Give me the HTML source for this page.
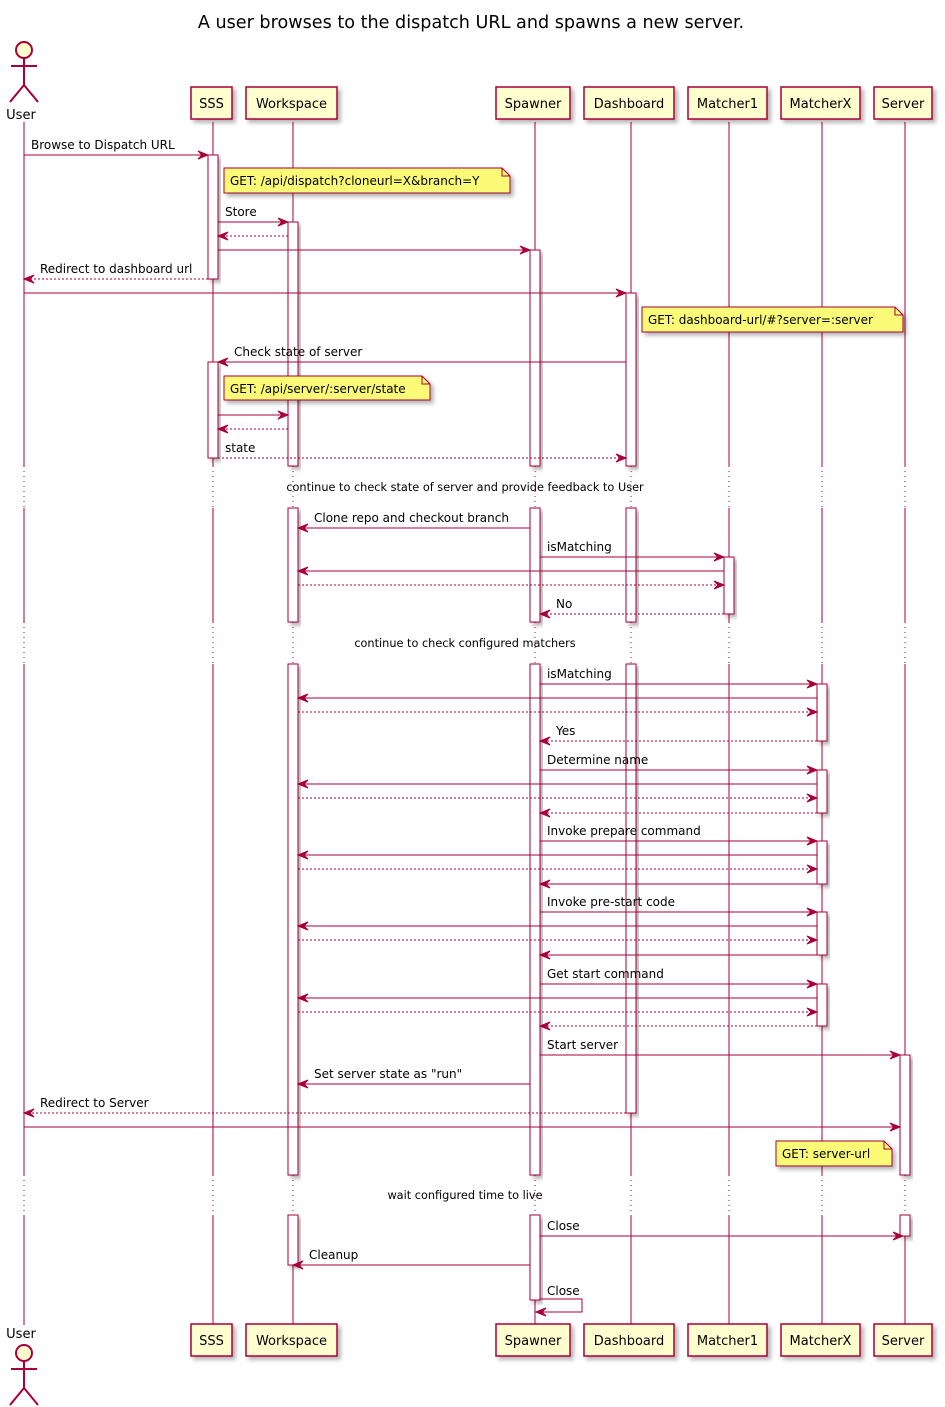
<!DOCTYPE html>
<html><head><meta charset="utf-8"><style>
body{margin:0;background:#fff;}
svg{display:block;font-family:"DejaVu Sans","Liberation Sans",sans-serif;}
</style></head><body>
<svg id="s" width="945" height="1407" viewBox="0 0 945 1407" xmlns="http://www.w3.org/2000/svg">
<defs><filter id="sh" x="-20%" y="-20%" width="150%" height="150%"><feDropShadow dx="3" dy="3" stdDeviation="2" flood-color="#000" flood-opacity="0.3"/></filter></defs>
<text x="471" y="28" text-anchor="middle" font-size="17.6" fill="#000">A user browses to the dispatch URL and spawns a new server.</text>
</svg>
<script>
var s=document.getElementById('s'),NS='http://www.w3.org/2000/svg',C='#A80036';
function el(t,a,txt){var e=document.createElementNS(NS,t);for(var k in a)e.setAttribute(k,a[k]);if(txt!==undefined)e.textContent=txt;s.appendChild(e);return e;}
var X={U:24,S:213,W:293,P:535,D:631,M:729,X:822,V:905};
var segs=[[122,466],[508,622],[664,1175],[1215,1325]];
for(var k in X){segs.forEach(function(g){el('line',{x1:X[k],y1:g[0],x2:X[k],y2:g[1],stroke:C,'stroke-width':1});});
 [[466,508],[622,664],[1175,1215]].forEach(function(g){el('line',{x1:X[k],y1:g[0],x2:X[k],y2:g[1],stroke:C,'stroke-width':1,'stroke-dasharray':'1,4'});});}
var P=[['SSS',191,232],['Workspace',246,337],['Spawner',496,570],['Dashboard',584,674],['Matcher1',688,767],['MatcherX',781,860],['Server',874,932]];
P.forEach(function(p){[87,1324].forEach(function(y){el('rect',{x:p[1],y:y,width:p[2]-p[1],height:32,fill:'#FEFECE',stroke:C,'stroke-width':1.5,filter:'url(#sh)'});el('text',{x:(p[1]+p[2])/2,y:y+21,'text-anchor':'middle','font-size':13},p[0]);});});
function actor(y){var g='stroke:'+C+';stroke-width:2;fill:#FEFECE';
el('circle',{cx:24,cy:y+8,r:8,style:g});el('line',{x1:24,y1:y+16,x2:24,y2:y+43,style:g});el('line',{x1:11,y1:y+24,x2:37,y2:y+24,style:g});
el('line',{x1:24,y1:y+43,x2:10,y2:y+60,style:g});el('line',{x1:24,y1:y+43,x2:38,y2:y+60,style:g});}
actor(42);el('text',{x:21,y:119,'text-anchor':'middle','font-size':13},'User');
actor(1345);el('text',{x:21,y:1338,'text-anchor':'middle','font-size':13},'User');
function act(x,a,b){el('rect',{x:x-5,y:a,width:10,height:b-a,fill:'#fff',stroke:C,'stroke-width':1,filter:'url(#sh)'});}
act(X.S,155,279);act(X.S,362,458);
[[222,466],[508,622],[664,1175],[1215,1265]].forEach(function(g){act(X.W,g[0],g[1]);});
[[250,466],[508,622],[664,1175],[1215,1300]].forEach(function(g){act(X.P,g[0],g[1]);});
[[293,466],[508,622],[664,1113]].forEach(function(g){act(X.D,g[0],g[1]);});
act(X.M,557,614);
[[684,741],[770,813],[841,884],[912,955],[984,1026]].forEach(function(g){act(X.X,g[0],g[1]);});
act(X.V,1055,1175);act(X.V,1215,1236);
[[487,'continue to check state of server and provide feedback to User'],[643,'continue to check configured matchers'],[1195,'wait configured time to live']].forEach(function(d){
 el('text',{x:465,y:d[0]+4,'text-anchor':'middle','font-size':11.3},d[1]);});
function msg(y,x1,x2,lbl,dash){el('line',{x1:x1,y1:y,x2:x2,y2:y,stroke:C,'stroke-width':1,'stroke-dasharray':dash?'2,2':'none'});
 var d=x2>x1?1:-1;el('polygon',{points:x2+','+y+' '+(x2-10*d)+','+(y-4)+' '+(x2-6*d)+','+y+' '+(x2-10*d)+','+(y+4),fill:C,stroke:C});
 if(lbl){var tx=d>0?x1+7:x2+16;el('text',{x:tx,y:y-6,'font-size':12},lbl);}}
var L=[[155,24,208,'Browse to Dispatch URL'],[222,218,288,'Store'],[236,288,218,'',1],[250,218,530],[279,208,24,'Redirect to dashboard url',1],[293,24,626],
[362,626,218,'Check state of server'],[415,218,288],[429,288,218,'',1],[458,218,626,'state',1],
[528,530,298,'Clone repo and checkout branch'],[557,540,724,'isMatching'],[571,724,298],[585,298,724,'',1],[614,724,540,'No',1],
[684,540,817,'isMatching'],[698,817,298],[712,298,817,'',1],[741,817,540,'Yes',1],
[770,540,817,'Determine name'],[784,817,298],[798,298,817,'',1],[813,817,540,'',1],
[841,540,817,'Invoke prepare command'],[855,817,298],[869,298,817,'',1],[884,817,540],
[912,540,817,'Invoke pre-start code'],[926,817,298],[940,298,817,'',1],[955,817,540],
[984,540,817,'Get start command'],[998,817,298],[1012,298,817,'',1],[1026,817,540,'',1],
[1055,540,900,'Start server'],[1084,530,298,'Set server state as "run"'],[1113,626,24,'Redirect to Server',1],[1127,24,900],
[1236,540,903,'Close'],[1265,530,293,'Cleanup']];
L.forEach(function(m){msg(m[0],m[1],m[2],m[3],m[4]);});
el('polyline',{points:'540,1299 582,1299 582,1312 536,1312',fill:'none',stroke:C});
el('polygon',{points:'536,1312 546,1308 542,1312 546,1316',fill:C,stroke:C});
el('text',{x:547,y:1295,'font-size':12},'Close');
function note(x1,y1,x2,y2,t){el('path',{d:'M'+x1+','+y1+' H'+(x2-8)+' L'+x2+','+(y1+8)+' V'+y2+' H'+x1+' Z',fill:'#FBFB77',stroke:C,'stroke-width':1,filter:'url(#sh)'});
 el('path',{d:'M'+(x2-8)+','+y1+' V'+(y1+8)+' H'+x2,fill:'none',stroke:C,'stroke-width':1});
 el('text',{x:x1+6,y:y1+17,'font-size':12},t);}
note(224,168,510,193,'GET: /api/dispatch?cloneurl=X&branch=Y');
note(642,307,903,332,'GET: dashboard-url/#?server=:server');
note(224,376,430,400,'GET: /api/server/:server/state');
note(776,1141,892,1166,'GET: server-url');
</script>
</body></html>
